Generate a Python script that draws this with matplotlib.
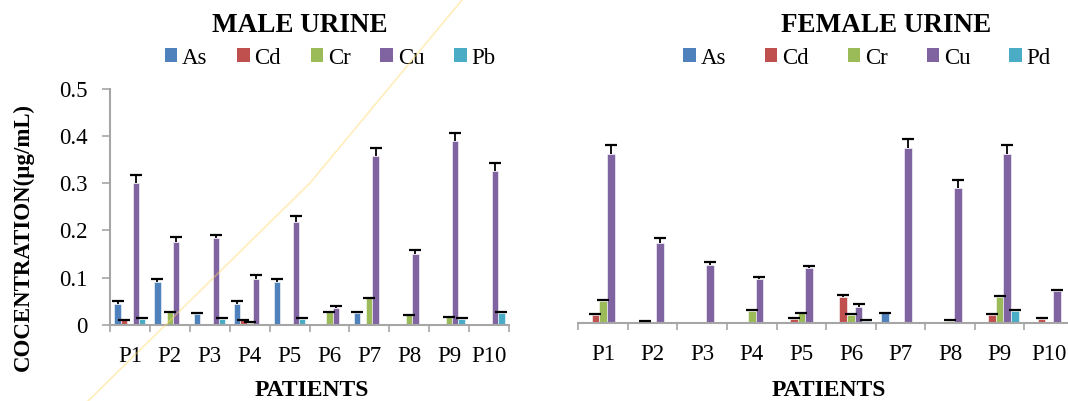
import matplotlib
matplotlib.use("Agg")
import matplotlib.pyplot as plt
import numpy as np
from matplotlib.patches import Patch
from matplotlib.lines import Line2D

plt.rcParams['font.family'] = ['Liberation Serif', 'DejaVu Serif']

patients = ["P1", "P2", "P3", "P4", "P5", "P6", "P7", "P8", "P9", "P10"]
metals_male = ["As", "Cd", "Cr", "Cu", "Pb"]
metals_female = ["As", "Cd", "Cr", "Cu", "Pd"]
colors = ["#4F81BD", "#C0504D", "#9BBB59", "#8064A2", "#4BACC6"]

# Male urine (µg/mL)
male_as = [0.044, 0.091, 0.022, 0.044, 0.091, 0, 0.024, 0, 0, 0]
male_cd = [0.010, 0, 0, 0.010, 0, 0, 0, 0, 0, 0]
male_cr = [0, 0.026, 0, 0.004, 0, 0.026, 0.056, 0.020, 0.016, 0]
male_cu = [0.300, 0.175, 0.183, 0.098, 0.218, 0.036, 0.357, 0.150, 0.389, 0.327]
male_pb = [0.013, 0, 0.013, 0, 0.013, 0, 0, 0, 0.013, 0.025]
male_as_err = [0.006, 0.006, 0.002, 0.006, 0.006, 0, 0.002, 0, 0, 0]
male_cd_err = [0.001, 0, 0, 0.001, 0, 0, 0, 0, 0, 0]
male_cr_err = [0, 0.001, 0, 0.001, 0, 0.001, 0.001, 0.001, 0.001, 0]
male_cu_err = [0.018, 0.010, 0.007, 0.008, 0.013, 0.004, 0.018, 0.008, 0.018, 0.015]
male_pb_err = [0.001, 0, 0.001, 0, 0.001, 0, 0, 0, 0.001, 0.002]

# Female urine (µg/mL)
female_as = [0, 0, 0, 0, 0, 0, 0.021, 0, 0, 0]
female_cd = [0.018, 0.004, 0, 0, 0.010, 0.055, 0, 0, 0.018, 0.010]
female_cr = [0.047, 0, 0, 0.027, 0.021, 0.018, 0, 0.005, 0.056, 0]
female_cu = [0.360, 0.171, 0.123, 0.093, 0.118, 0.035, 0.371, 0.288, 0.359, 0.069]
female_pd = [0, 0, 0, 0, 0, 0.005, 0, 0, 0.027, 0]
female_as_err = [0, 0, 0, 0, 0, 0, 0.001, 0, 0, 0]
female_cd_err = [0.001, 0.001, 0, 0, 0.001, 0.005, 0, 0, 0.001, 0.001]
female_cr_err = [0.003, 0, 0, 0.001, 0.001, 0.001, 0, 0.001, 0.001, 0]
female_cu_err = [0.018, 0.011, 0.007, 0.005, 0.004, 0.006, 0.020, 0.017, 0.019, 0.001]
female_pd_err = [0, 0, 0, 0, 0, 0.001, 0, 0, 0.002, 0]

W, H = 1068, 401
fig = plt.figure(figsize=(W / 100, H / 100), dpi=100)

def fx(px):
    return px / W

def fy(py):
    return 1 - py / H

spine_col = "#A6A6A6"
bw = 0.155


def draw(ax, series, errs, names, title, tcx, legend_cx, colsp, show_y):
    x = np.arange(len(patients))
    for k, (vals, err, col, nm) in enumerate(zip(series, errs, colors, names)):
        pos = x + (k - 2) * bw
        vals = np.array(vals, dtype=float)
        err = np.array(err, dtype=float)
        ax.bar(pos, vals, width=bw, color=col, edgecolor="white", linewidth=0.4, zorder=2)
        m = vals > 0
        ax.vlines(pos[m], vals[m], vals[m] + err[m], color="black", linewidth=1.3, zorder=3)
        ax.plot(pos[m], vals[m] + err[m], linestyle="none", marker="_", markersize=9,
                markeredgewidth=1.6, color="black", zorder=3)
    ax.set_xlim(-0.5, len(patients) - 0.5)
    ax.set_ylim(0, 0.5)
    ax.set_xticks(x)
    ax.set_xticklabels(patients, fontsize=16.5)
    ax.set_xticks(np.arange(-0.5, len(patients)), minor=True)
    ax.tick_params(axis="x", which="major", length=0, pad=15)
    ax.tick_params(axis="x", which="minor", length=5, color=spine_col, width=1.2)
    for s in ["top", "right"]:
        ax.spines[s].set_visible(False)
    ax.spines["bottom"].set_color(spine_col)
    ax.spines["bottom"].set_linewidth(1.5)
    if show_y:
        ax.spines["left"].set_color(spine_col)
        ax.spines["left"].set_linewidth(1.5)
        ax.set_yticks([0, 0.1, 0.2, 0.3, 0.4, 0.5])
        ax.set_yticklabels(["0", "0.1", "0.2", "0.3", "0.4", "0.5"], fontsize=16.5)
        ax.tick_params(axis="y", length=6, color=spine_col, width=1.2, pad=10)
    else:
        ax.spines["left"].set_visible(False)
        ax.set_yticks([])
    fig.text(fx(tcx), fy(25), title, fontsize=19.5, fontweight="bold",
             ha="center", va="center")
    handles = [Patch(facecolor=c, edgecolor="none") for c in colors]
    fig.legend(handles, names, loc="center", bbox_to_anchor=(fx(legend_cx), fy(58)),
               ncol=5, frameon=False, fontsize=16.5, handlelength=0.55, handleheight=0.55,
               handletextpad=0.2, columnspacing=colsp, borderpad=0, borderaxespad=0)


ax1 = fig.add_axes([fx(110), fy(324.7), fx(509 - 110), (324.7 - 89) / H])
draw(ax1, [male_as, male_cd, male_cr, male_cu, male_pb],
     [male_as_err, male_cd_err, male_cr_err, male_cu_err, male_pb_err],
     metals_male, "MALE URINE", 300, 330, 1.3, True)

ax2 = fig.add_axes([fx(578.3), fy(323.3), fx(1074 - 578.3), (323.3 - 87.6) / H])
draw(ax2, [female_as, female_cd, female_cr, female_cu, female_pd],
     [female_as_err, female_cd_err, female_cr_err, female_cu_err, female_pd_err],
     metals_female, "FEMALE URINE", 886, 867, 1.7, False)

fig.text(fx(312), fy(390), "PATIENTS", fontsize=17, fontweight="bold", ha="center", va="center")
fig.text(fx(829), fy(390), "PATIENTS", fontsize=17, fontweight="bold", ha="center", va="center")
fig.text(fx(23), fy(237), "COCENTRATION(µg/mL)", fontsize=16.5, fontweight="bold",
         ha="center", va="center", rotation=90)

# faint diagonal scan artifact
fig.add_artist(Line2D([fx(88), fx(310), fx(462)], [fy(401), fy(183), fy(0)],
                      color="#FFD966", alpha=0.45, linewidth=1.2, zorder=10))

fig.savefig("out.png", dpi=100)
